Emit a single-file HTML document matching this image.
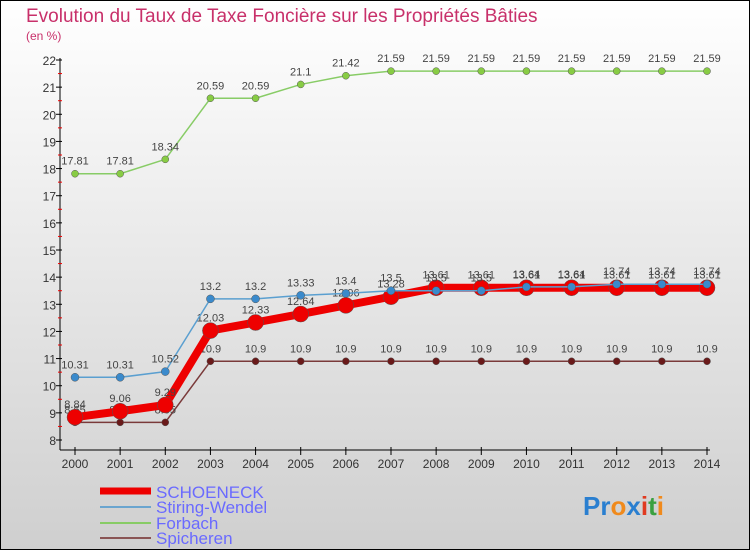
<!DOCTYPE html>
<html><head><meta charset="utf-8"><style>
body{margin:0}
#c{width:750px;height:550px;position:relative;overflow:hidden;font-family:"Liberation Sans",sans-serif;}
</style></head><body>
<div id="c">
<svg id="s" width="750" height="550" xmlns="http://www.w3.org/2000/svg">
<defs><linearGradient id="bg" x1="0" y1="0" x2="0" y2="1"><stop offset="0" stop-color="#ffffff"/><stop offset="1" stop-color="#cfcfcf"/></linearGradient></defs>
<rect x="0.5" y="0.5" width="749" height="549" fill="url(#bg)" stroke="#000"/>
<text x="26" y="22" font-size="19" fill="#c8306a">Evolution du Taux de Taxe Foncière sur les Propriétés Bâties</text>
<text x="26" y="40" font-size="12" fill="#c8306a">(en %)</text>
<g id="axes"></g><g id="series"></g>
<g>
<line x1="100" y1="491" x2="151" y2="491" stroke="#ee0000" stroke-width="7"/>
<text x="156" y="498" font-size="17" fill="#6a6aff">SCHOENECK</text>
<line x1="100" y1="507" x2="151" y2="507" stroke="#6aa5cf" stroke-width="2"/>
<text x="156" y="513" font-size="17" fill="#6a6aff">Stiring-Wendel</text>
<line x1="100" y1="523" x2="151" y2="523" stroke="#88cc66" stroke-width="2"/>
<text x="156" y="529" font-size="17" fill="#6a6aff">Forbach</text>
<line x1="100" y1="538" x2="151" y2="538" stroke="#8a5555" stroke-width="2"/>
<text x="156" y="544" font-size="17" fill="#6a6aff">Spicheren</text>
</g>
<g font-size="26" font-weight="bold">
<text x="583" y="515"><tspan fill="#2a7fd0">Pr</tspan><tspan fill="#f08a1c">o</tspan><tspan fill="#2a7fd0">x</tspan><tspan fill="#e03a20">i</tspan><tspan fill="#3aa040">t</tspan><tspan fill="#f08a1c">i</tspan></text>
</g>
</svg></div>
<script>
const years=[2000,2001,2002,2003,2004,2005,2006,2007,2008,2009,2010,2011,2012,2013,2014];
const schoeneck=[8.84,9.06,9.29,12.03,12.33,12.64,12.96,13.28,13.61,13.61,13.61,13.61,13.61,13.61,13.61];
const stiring=[10.31,10.31,10.52,13.2,13.2,13.33,13.4,13.5,13.5,13.5,13.64,13.64,13.74,13.74,13.74];
const forbach=[17.81,17.81,18.34,20.59,20.59,21.1,21.42,21.59,21.59,21.59,21.59,21.59,21.59,21.59,21.59];
const spicheren=[8.65,8.65,8.65,10.9,10.9,10.9,10.9,10.9,10.9,10.9,10.9,10.9,10.9,10.9,10.9];
const yTicks=[8,9,10,11,12,13,14,15,16,17,18,19,20,21,22];
const NS="http://www.w3.org/2000/svg";
const X=i=>75+i*(707-75)/(years.length-1);
const Y=v=>440-(v-8)*(440-60)/14;
function mk(t,a,p){const e=document.createElementNS(NS,t);for(const k in a)e.setAttribute(k,a[k]);p.appendChild(e);return e;}
const ax=document.getElementById('axes');
let a=mk('line',{x1:60,y1:58,x2:60,y2:450,stroke:'#000'},ax);


a=mk('line',{x1:60,y1:450,x2:710,y2:450,stroke:'#000'},ax);


yTicks.forEach(v=>{
 mk('line',{x1:56,y1:Y(v),x2:62,y2:Y(v),stroke:'#000'},ax);
 if(v<22)mk('line',{x1:58,y1:Y(v+0.5),x2:62,y2:Y(v+0.5),stroke:'#e00'},ax);
 const t=mk('text',{x:56,y:Y(v)+5,'font-size':12,fill:'#333','text-anchor':'end'},ax);
 t.textContent=v;
 
 
});
years.forEach((y,i)=>{
 mk('line',{x1:X(i),y1:447,x2:X(i),y2:455,stroke:'#000'},ax);
 const t=mk('text',{x:X(i),y:468,'font-size':12,fill:'#333','text-anchor':'middle'},ax);
 t.textContent=y;
 
 
});
const sg=document.getElementById('series');
function series(name,vals,col,w,r,ptCol){
 const g=mk('g',{},sg);
 
 
 mk('polyline',{points:vals.map((v,i)=>X(i)+','+Y(v)).join(' '),fill:'none',stroke:col,'stroke-width':w,'stroke-linejoin':'round'},g);
 vals.forEach((v,i)=>{
  const c=mk('circle',{cx:X(i),cy:Y(v),r:r,fill:ptCol,stroke:'#555','stroke-width':0.5},g);
  
  
  const t=mk('text',{x:X(i),y:Y(v)-9,'font-size':11,fill:'#444','text-anchor':'middle'},g);
  t.textContent=v;
  
  
 });
}
series('forbach',forbach,'#88cc66',1.5,3.5,'#88cc44');
series('spicheren',spicheren,'#7a3a3a',1.5,3.5,'#6a1a1a');
series('schoeneck',schoeneck,'#ee0000',8,8,'#ee0000');
series('stiring',stiring,'#5a9fd0',1.5,4,'#3a8acc');
</script></body></html>
